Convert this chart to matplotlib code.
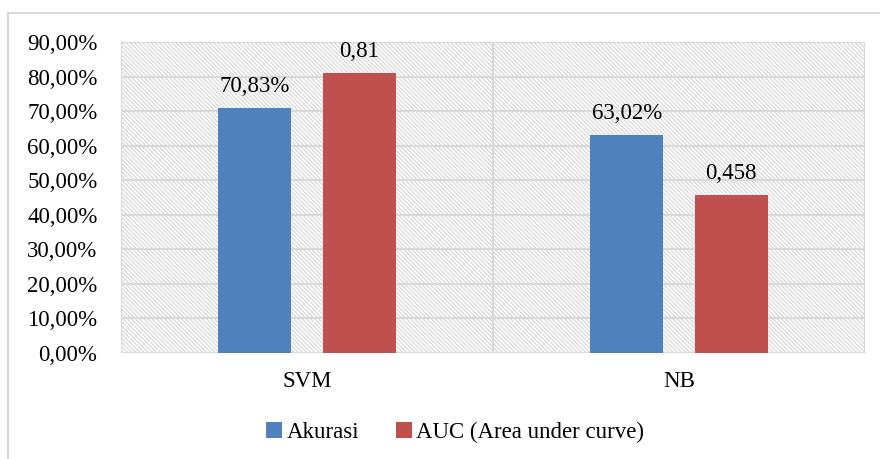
import matplotlib
matplotlib.use("Agg")
import matplotlib.pyplot as plt
from matplotlib.patches import Rectangle
from matplotlib.lines import Line2D
import numpy as np

# data
models = ["SVM", "NB"]
akurasi = [70.83, 63.02]
auc = [81.0, 45.8]
akurasi_labels = ["70,83%", "63,02%"]
auc_labels = ["0,81", "0,458"]
yticks = [0, 10, 20, 30, 40, 50, 60, 70, 80, 90]
ytick_labels = ["0,00%", "10,00%", "20,00%", "30,00%", "40,00%",
                "50,00%", "60,00%", "70,00%", "80,00%", "90,00%"]

blue = "#4F81BD"
red = "#C0504D"
grid_col = "#d9d9d9"

plt.rcParams["font.family"] = ["Liberation Serif", "DejaVu Serif"]
plt.rcParams["font.size"] = 16.5
plt.rcParams["hatch.linewidth"] = 1.0
plt.rcParams["hatch.color"] = "#dcdcdc"

fig = plt.figure(figsize=(8.8, 4.59), dpi=100)
ax = fig.add_axes([121/880, 1-353/459, (865-121)/880, (353-42)/459])

# hatched background of the plot area
bg = Rectangle((0, 0), 1, 1, transform=ax.transAxes, facecolor="white",
               edgecolor="#dcdcdc", linewidth=0, hatch="\\" * 8, zorder=0)
ax.add_patch(bg)

x = np.arange(len(models))
w = 0.196
off = 0.14
b1 = ax.bar(x - off, akurasi, w, color=blue, label="Akurasi", zorder=3)
b2 = ax.bar(x + off, auc, w, color=red, label="AUC (Area under curve)", zorder=3)

for rect, lab in zip(b1, akurasi_labels):
    ax.annotate(lab, (rect.get_x() + rect.get_width()/2, rect.get_height()),
                xytext=(0, 8), textcoords="offset points", ha="center", va="bottom")
for rect, lab in zip(b2, auc_labels):
    ax.annotate(lab, (rect.get_x() + rect.get_width()/2, rect.get_height()),
                xytext=(0, 8), textcoords="offset points", ha="center", va="bottom")

ax.set_xlim(-0.5, 1.5)
ax.set_ylim(0, 90)
ax.set_yticks(yticks)
ax.set_yticklabels(ytick_labels)
ax.set_xticks(x)
ax.set_xticklabels(models)
ax.tick_params(axis="y", length=0, pad=17)
ax.tick_params(axis="x", length=0, pad=13)

# gridlines
for yv in yticks:
    ax.axhline(yv, color=grid_col, lw=1.5, zorder=1)
for xv in [-0.5, 0.5, 1.5]:
    ax.axvline(xv, color=grid_col, lw=1.5, zorder=1)
for s in ax.spines.values():
    s.set_visible(False)

fig.legend(handles=[b1, b2], loc="center", bbox_to_anchor=(455/880, 1-432/459),
           ncol=2, frameon=False, handlelength=0.7, handleheight=0.7,
           handletextpad=0.2, columnspacing=1.6)

# outer chart border (left and top edges)
fig.add_artist(Line2D([8/880, 8/880], [0, 1-13/459], color=grid_col, lw=1.5))
fig.add_artist(Line2D([8/880, 1], [1-13/459, 1-13/459], color=grid_col, lw=1.5))

fig.savefig("out.png", dpi=100)
